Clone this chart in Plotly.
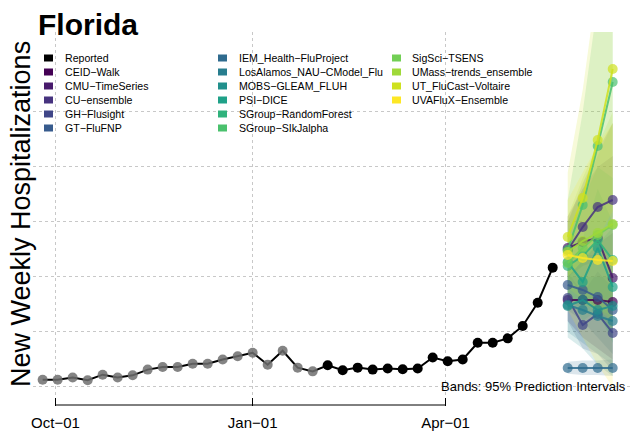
import plotly.graph_objects as go
import pandas as pd

# ---------------- data ----------------
obs_start = "2021-09-25"
reported = [66, 66, 86, 61, 112, 86, 106, 158, 182, 182, 212, 212, 250, 280, 311,
            203, 329, 176, 142, 198, 152, 176, 158, 168, 161, 168, 268, 234, 250,
            402, 402, 442, 555, 766, 1085]
n_gray = 19  # first points drawn in grey

models = ["CEID-Walk", "CMU-TimeSeries", "CU-ensemble", "GH-Flusight", "GT-FluFNP",
          "IEM_Health-FluProject", "LosAlamos_NAU-CModel_Flu", "MOBS-GLEAM_FLUH",
          "PSI-DICE", "SGroup-RandomForest", "SGroup-SIkJalpha", "SigSci-TSENS",
          "UMass-trends_ensemble", "UT_FluCast-Voltaire", "UVAFluX-Ensemble"]
colors = ["#440154", "#481A6C", "#46337F", "#404688", "#375B8D", "#2F6B8E", "#287D8E",
          "#21908C", "#1FA188", "#2FB27C", "#4AC16D", "#72CF55", "#9FD939", "#CEE11F",
          "#FDE725"]

point = {
    "CEID-Walk":                [791, 791, 791, 773],
    "CMU-TimeSeries":           [1264, 1318, 1355, 991],
    "CU-ensemble":              [1245, 1454, 1636, 1700],
    "GH-Flusight":              [809, 564, 664, 491],
    "GT-FluFNP":                [927, 882, 818, 700],
    "IEM_Health-FluProject":    [173, 173, 173, 173],
    "LosAlamos_NAU-CModel_Flu": [745, 700, 645, 600],
    "MOBS-GLEAM_FLUH":          [736, 791, 700, 736],
    "PSI-DICE":                 [1136, 955, 1264, 909],
    "SGroup-RandomForest":      [1100, 1191, 1336, 1155],
    "SGroup-SIkJalpha":         [1245, 1654, 2191, 2773],
    "SigSci-TSENS":             [1127, 1264, 1382, 1473],
    "UMass-trends_ensemble":    [1227, 1327, 1400, 1482],
    "UT_FluCast-Voltaire":      [1364, 1718, 2245, 2891],
    "UVAFluX-Ensemble":         [1200, 1173, 1155, 1145],
}
lower = {
    "CEID-Walk":                [600, 450, 350, 250],
    "CMU-TimeSeries":           [1000, 850, 700, 500],
    "CU-ensemble":              [1000, 1100, 1150, 1100],
    "GH-Flusight":              [600, 350, 300, 150],
    "GT-FluFNP":                [700, 600, 450, 300],
    "IEM_Health-FluProject":    [120, 110, 110, 100],
    "LosAlamos_NAU-CModel_Flu": [500, 400, 300, 200],
    "MOBS-GLEAM_FLUH":          [450, 350, 200, 100],
    "PSI-DICE":                 [850, 600, 700, 400],
    "SGroup-RandomForest":      [800, 700, 650, 450],
    "SGroup-SIkJalpha":         [950, 1100, 1300, 1550],
    "SigSci-TSENS":             [800, 750, 700, 650],
    "UMass-trends_ensemble":    [900, 800, 700, 600],
    "UT_FluCast-Voltaire":      [1000, 1150, 1350, 1600],
    "UVAFluX-Ensemble":         [700, 450, 200, 0],
}
upper = {
    "CEID-Walk":                [1000, 1150, 1300, 1400],
    "CMU-TimeSeries":           [1550, 1800, 2000, 2100],
    "CU-ensemble":              [1500, 1850, 2150, 2400],
    "GH-Flusight":              [1050, 850, 1050, 900],
    "GT-FluFNP":                [1150, 1200, 1200, 1150],
    "IEM_Health-FluProject":    [230, 240, 240, 250],
    "LosAlamos_NAU-CModel_Flu": [1000, 1000, 1000, 1000],
    "MOBS-GLEAM_FLUH":          [1050, 1250, 1300, 1450],
    "PSI-DICE":                 [1400, 1350, 1800, 1500],
    "SGroup-RandomForest":      [1400, 1700, 2000, 1900],
    "SGroup-SIkJalpha":         [1700, 2500, 3500, 4500],
    "SigSci-TSENS":             [1500, 1800, 2100, 2400],
    "UMass-trends_ensemble":    [1550, 1900, 2200, 2500],
    "UT_FluCast-Voltaire":      [1950, 2700, 3700, 4600],
    "UVAFluX-Ensemble":         [1700, 1950, 2200, 2400],
}

tick_dates = ["2021-10-01", "2022-01-01", "2022-04-01"]
tick_text = ["Oct\u221201", "Jan\u221201", "Apr\u221201"]
y_grid = [0, 500, 1000, 1500, 2000, 2500]

# ---------------- layout geometry ----------------
W, H = 632, 435
L, R, T, B = 33, 0, 32, 38
PW, PH = W - L - R, H - T - B

def px(x):
    return (x - L) / PW

def py(y):
    return (H - B - y) / PH

def rgba(hexc, a):
    h = hexc.lstrip("#")
    return "rgba(%d,%d,%d,%.3f)" % (int(h[0:2], 16), int(h[2:4], 16), int(h[4:6], 16), a)

obs_dates = pd.date_range(obs_start, periods=len(reported), freq="7D")
fc_dates = pd.date_range(obs_dates[-1] + pd.Timedelta(days=7), periods=4, freq="7D")

fig = go.Figure()

# prediction bands
for m, c in zip(models, colors):
    xs = list(fc_dates) + list(fc_dates[::-1])
    ys = upper[m] + lower[m][::-1]
    fig.add_trace(go.Scatter(x=xs, y=ys, fill="toself", fillcolor=rgba(c, 0.17),
                             line=dict(width=0), mode="lines", hoverinfo="skip",
                             showlegend=False))

# reported
fig.add_trace(go.Scatter(x=obs_dates, y=reported, mode="lines",
                         line=dict(color="black", width=2), showlegend=False))
fig.add_trace(go.Scatter(x=obs_dates[:n_gray], y=reported[:n_gray], mode="markers",
                         marker=dict(color="rgba(110,110,110,0.85)", size=10),
                         showlegend=False))
fig.add_trace(go.Scatter(x=obs_dates[n_gray:], y=reported[n_gray:], mode="markers",
                         marker=dict(color="black", size=10), showlegend=False))

# forecasts
for m, c in zip(models, colors):
    fig.add_trace(go.Scatter(x=fc_dates, y=point[m], mode="lines+markers",
                             line=dict(color=rgba(c, 0.85), width=2),
                             marker=dict(color=rgba(c, 0.7), size=10),
                             name=m, showlegend=False))

# ---------------- manual legend ----------------
legend_names = ["Reported"] + models
legend_cols = ["#000000"] + colors
col_sq_x = [44, 218, 392]
col_tx_x = [63, 237, 410]
rows_per_col = [6, 6, 4]
shapes = []
annotations = []
idx = 0
for ci, nrows in enumerate(rows_per_col):
    for r in range(nrows):
        yc = 58 + 14 * r
        shapes.append(dict(type="rect", xref="paper", yref="paper",
                           x0=px(col_sq_x[ci]), x1=px(col_sq_x[ci] + 9),
                           y0=py(yc + 3.5), y1=py(yc - 3.5),
                           fillcolor=legend_cols[idx], line=dict(width=0)))
        annotations.append(dict(xref="paper", yref="paper", x=px(col_tx_x[ci]), y=py(yc),
                                xanchor="left", yanchor="middle", showarrow=False,
                                text=legend_names[idx].replace("-", "\u2212"),
                                font=dict(size=10.6, color="#000000")))
        idx += 1

# R-style x axis line between first and last ticks
shapes.append(dict(type="line", xref="x", yref="paper", x0=tick_dates[0], x1=tick_dates[-1],
                   y0=py(405), y1=py(405), line=dict(color="black", width=1)))

annotations.append(dict(xref="paper", yref="paper", x=px(36), y=py(24), xanchor="left",
                        yanchor="middle", showarrow=False, text="<b>Florida</b>",
                        font=dict(size=30, color="black")))
annotations.append(dict(xref="paper", yref="paper", x=px(21), y=py(214), xanchor="center",
                        yanchor="middle", showarrow=False, textangle=-90,
                        text="New Weekly Hospitalizations",
                        font=dict(size=27, color="black")))
annotations.append(dict(xref="paper", yref="paper", x=px(628), y=py(386), xanchor="right",
                        yanchor="middle", showarrow=False,
                        text="Bands: 95% Prediction Intervals",
                        font=dict(size=13, color="black")))

fig.update_layout(
    width=W, height=H, margin=dict(l=L, r=R, t=T, b=B, pad=0), autosize=False,
    paper_bgcolor="white", plot_bgcolor="white",
    font=dict(family="Liberation Sans, Arial, Helvetica, sans-serif", color="black"),
    shapes=shapes, annotations=annotations, showlegend=False,
    xaxis=dict(type="date", range=["2021-09-20 12:00", "2022-06-27"],
               tickvals=tick_dates, ticktext=tick_text, ticks="outside", ticklen=8,
               tickcolor="black", tickwidth=1, tickfont=dict(size=15),
               showgrid=True, gridcolor="#c8c8c8", griddash="dot", gridwidth=1,
               showline=False, zeroline=False, ticklabelstandoff=4),
    yaxis=dict(range=[-91, 3227], tickvals=y_grid, showticklabels=False, ticks="",
               showgrid=True, gridcolor="#c8c8c8", griddash="dot", gridwidth=1,
               zeroline=False, showline=False),
)

fig.write_html("out.html", config={"displayModeBar": False},
               post_script="document.body.style.margin='0px';document.body.style.overflow='hidden';")
